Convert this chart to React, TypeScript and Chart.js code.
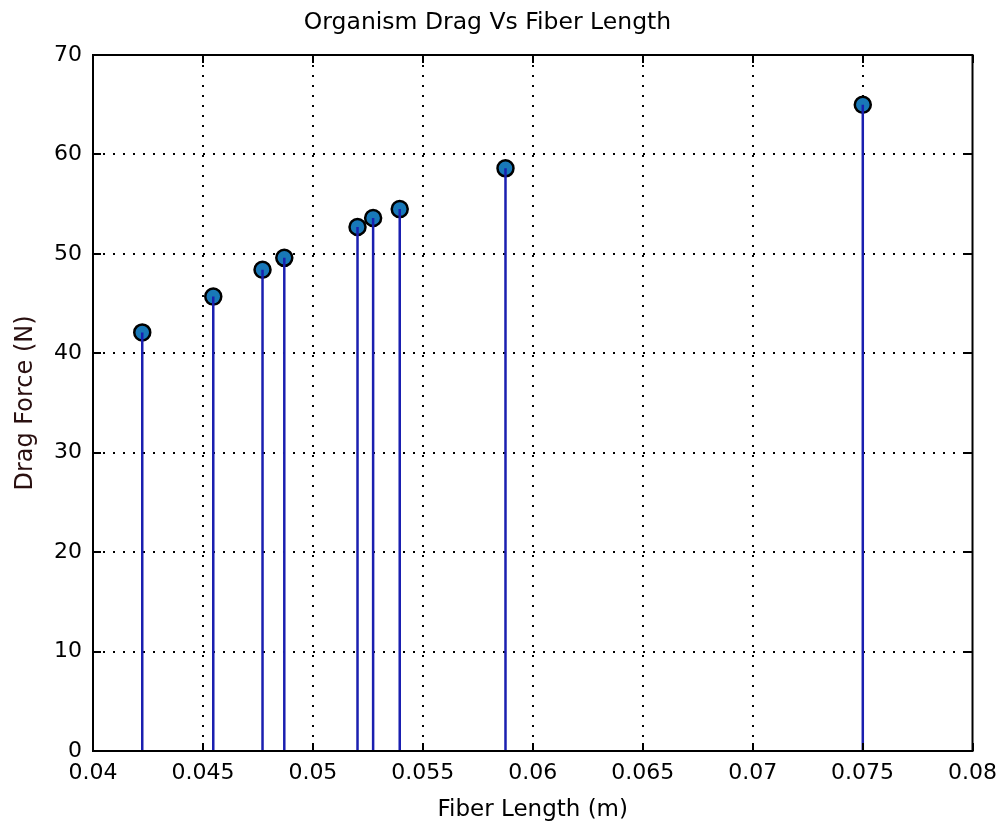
import React, { useEffect, useRef } from "react";
import { Chart, registerables } from "chart.js";

Chart.register(...registerables);

const fiberLength = [0.04224, 0.04547, 0.04771, 0.04870, 0.05203, 0.05274, 0.05395, 0.05876, 0.07501];
const dragForce = [42.1, 45.7, 48.4, 49.6, 52.7, 53.6, 54.5, 58.6, 65.0];
const xTickValues = [0.04, 0.045, 0.05, 0.055, 0.06, 0.065, 0.07, 0.075, 0.08];
const xTickLabels = ["0.04", "0.045", "0.05", "0.055", "0.06", "0.065", "0.07", "0.075", "0.08"];
const yTickValues = [0, 10, 20, 30, 40, 50, 60, 70];
const yTickLabels = ["0", "10", "20", "30", "40", "50", "60", "70"];
const titleText = "Organism Drag Vs Fiber Length";
const xTitle = "Fiber Length (m)";
const yTitle = "Drag Force (N)";

const FONT = "'DejaVu Sans', 'Liberation Sans', sans-serif";

const framePlugin = {
  id: "frame",
  beforeDraw(chart: any) {
    const ctx = chart.ctx;
    ctx.save();
    ctx.fillStyle = "#ffffff";
    ctx.fillRect(0, 0, chart.width, chart.height);
    ctx.restore();
  },
  afterDraw(chart: any) {
    const { ctx, chartArea } = chart;
    const { left, right, top, bottom } = chartArea;
    const xs = chart.scales.x;
    const ys = chart.scales.y;
    const tl = 8;
    ctx.save();
    ctx.strokeStyle = "#000000";
    ctx.lineWidth = 2;
    ctx.setLineDash([]);
    ctx.beginPath();
    xTickValues.forEach((v) => {
      const px = Math.round(xs.getPixelForValue(v));
      ctx.moveTo(px, bottom);
      ctx.lineTo(px, bottom - tl);
      ctx.moveTo(px, top);
      ctx.lineTo(px, top + tl);
    });
    yTickValues.forEach((v) => {
      const py = Math.round(ys.getPixelForValue(v));
      ctx.moveTo(left, py);
      ctx.lineTo(left + tl, py);
      ctx.moveTo(right, py);
      ctx.lineTo(right - tl, py);
    });
    ctx.stroke();
    ctx.strokeRect(left, top, right - left, bottom - top);
    ctx.restore();
  },
};

const innerGridColor = (n: number) => (c: any) =>
  c.index === 0 || c.index === n - 1 ? "rgba(0,0,0,0)" : "#000000";

export default function App() {
  const ref = useRef<HTMLCanvasElement | null>(null);

  useEffect(() => {
    if (!ref.current) return;
    const stemData: any[] = [];
    fiberLength.forEach((x, i) => {
      stemData.push({ x, y: 0 });
      stemData.push({ x, y: dragForce[i] });
      stemData.push({ x, y: null });
    });
    const pointData = fiberLength.map((x, i) => ({ x, y: dragForce[i] }));

    const chart = new Chart(ref.current, {
      type: "scatter",
      data: {
        datasets: [
          {
            label: "stems",
            data: stemData,
            showLine: true,
            spanGaps: false,
            borderColor: "#1a1fb0",
            borderWidth: 2.5,
            pointRadius: 0,
            pointHoverRadius: 0,
          },
          {
            label: "points",
            data: pointData,
            showLine: false,
            pointRadius: 8,
            pointBackgroundColor: "#1878b8",
            pointBorderColor: "#000000",
            pointBorderWidth: 2.5,
          },
        ],
      },
      options: {
        responsive: false,
        animation: false,
        devicePixelRatio: 1,
        layout: { padding: { left: 0, right: 31, top: 0, bottom: 0 } },
        plugins: {
          legend: { display: false },
          tooltip: { enabled: false },
          title: {
            display: true,
            text: titleText,
            color: "#000000",
            font: { family: FONT, size: 23.5, weight: "normal" },
            padding: { top: 9, bottom: 17.8 },
          },
        },
        scales: {
          x: {
            type: "linear",
            min: 0.04,
            max: 0.08,
            afterBuildTicks: (scale: any) => {
              scale.ticks = xTickValues.map((v) => ({ value: v }));
            },
            afterFit: (scale: any) => {
              scale.height = 77;
            },
            ticks: {
              color: "#000000",
              font: { family: FONT, size: 22 },
              padding: 9,
              maxRotation: 0,
              autoSkip: false,
              callback: (_v: any, i: number) => xTickLabels[i],
            },
            grid: {
              color: innerGridColor(xTickValues.length),
              lineWidth: 2,
              drawTicks: false,
              tickLength: 0,
            },
            border: { display: false, dash: [2, 8] },
            title: {
              display: true,
              text: xTitle,
              color: "#000000",
              font: { family: FONT, size: 23 },
              padding: { top: 0, bottom: 4 },
            },
          },
          y: {
            type: "linear",
            min: 0,
            max: 70,
            afterBuildTicks: (scale: any) => {
              scale.ticks = yTickValues.map((v) => ({ value: v }));
            },
            afterFit: (scale: any) => {
              scale.width = 93;
            },
            ticks: {
              color: "#000000",
              font: { family: FONT, size: 22 },
              padding: 11,
              autoSkip: false,
              callback: (_v: any, i: number) => yTickLabels[i],
            },
            grid: {
              color: innerGridColor(yTickValues.length),
              lineWidth: 2,
              drawTicks: false,
              tickLength: 0,
            },
            border: { display: false, dash: [2, 8] },
            title: {
              display: true,
              text: yTitle,
              color: "#2a1010",
              font: { family: FONT, size: 24 },
              padding: { top: 11.5, bottom: 0 },
            },
          },
        },
      } as any,
      plugins: [framePlugin],
    });
    return () => chart.destroy();
  }, []);

  return (
    <div style={{ position: "absolute", left: 0, top: 0, width: 1006, height: 828, background: "#ffffff" }}>
      <canvas ref={ref} width={1006} height={828} style={{ display: "block", width: 1006, height: 828 }} />
    </div>
  );
}
